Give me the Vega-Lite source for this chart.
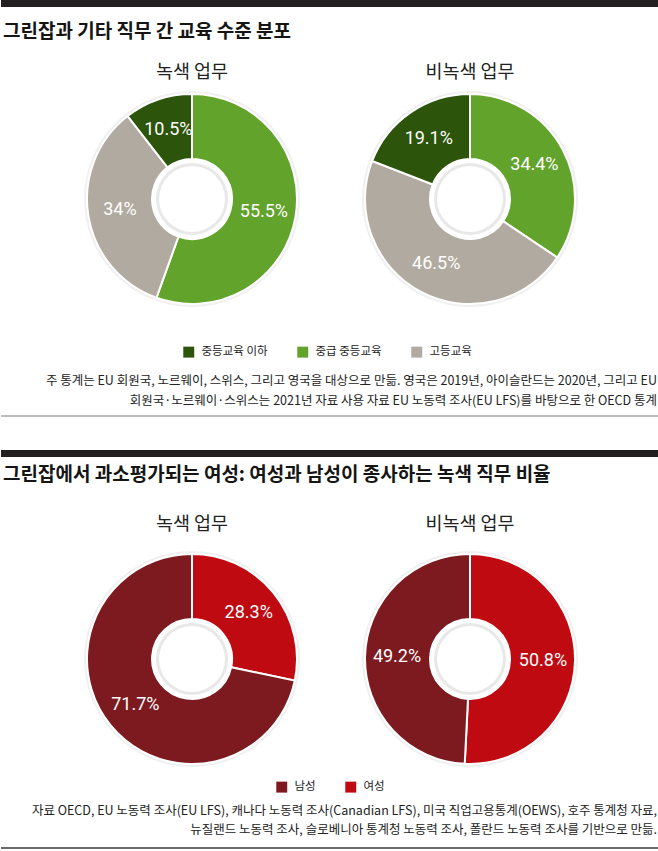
{
  "$schema": "https://vega.github.io/schema/vega-lite/v6.json",
  "padding": 0,
  "background": "white",
  "spacing": 0,
  "config": {
    "view": {"stroke": null},
    "font": "Noto Sans CJK KR",
    "concat": {"spacing": 0},
    "legend": {
      "orient": "none",
      "direction": "horizontal",
      "title": null,
      "symbolType": "square",
      "symbolSize": 120,
      "symbolStrokeWidth": 0,
      "labelFont": "Noto Sans CJK KR",
      "labelFontSize": 11.5,
      "labelColor": "#222222",
      "labelOffset": 7,
      "columnPadding": 29
    }
  },
  "resolve": {"scale": {"color": "independent"}},
  "vconcat": [
    {
      "width": 658,
      "height": 7,
      "data": {"values": [{}]},
      "mark": {"type": "rect", "color": "#231f20"},
      "encoding": {}
    },
    {
      "width": 658,
      "height": 15,
      "data": {"values": []},
      "mark": "rect",
      "encoding": {}
    },
    {
      "title": {
        "text": "그린잡과 기타 직무 간 교육 수준 분포",
        "anchor": "start",
        "dx": 2,
        "fontSize": 19,
        "fontWeight": "bold",
        "color": "#151515",
        "offset": 21
      },
      "spacing": 0,
      "hconcat": [
        {
          "width": 52,
          "height": 220,
          "data": {"values": []},
          "mark": "rect",
          "encoding": {}
        },
        {
          "width": 278,
          "height": 220,
          "title": {"text": "녹색 업무", "fontSize": 18.5, "fontWeight": "normal", "color": "#222222", "offset": 8},
          "data": {
            "values": [
              {"job": "녹색 업무", "level": "중급 중등교육", "share": 0.555, "seq": 1},
              {"job": "녹색 업무", "level": "고등교육", "share": 0.34, "seq": 2},
              {"job": "녹색 업무", "level": "중등교육 이하", "share": 0.105, "seq": 3}
            ]
          },
          "layer": [
            {
              "data": {"values": [{}]},
              "mark": {"type": "arc", "outerRadius": 108, "innerRadius": 100, "color": "#f0f0f0"},
              "encoding": {}
            },
            {
              "mark": {"type": "arc", "outerRadius": 105, "innerRadius": 40, "stroke": "white", "strokeWidth": 2},
              "encoding": {
                "theta": {"field": "share", "type": "quantitative", "stack": true},
                "order": {"field": "seq", "type": "quantitative"},
                "color": {
                  "field": "level",
                  "type": "nominal",
                  "scale": {"domain": ["중등교육 이하", "중급 중등교육", "고등교육"], "range": ["#2c540b", "#62a32b", "#b1aaa0"]},
                  "legend": {"legendX": 182, "legendY": 257}
                }
              }
            },
            {
              "data": {"values": [{}]},
              "mark": {"type": "arc", "outerRadius": 36, "innerRadius": 33, "color": "#e8e8e8"},
              "encoding": {}
            },
            {
              "mark": {"type": "text", "radius": 73, "font": "Roboto", "fontSize": 18, "color": "white"},
              "encoding": {
                "theta": {"field": "share", "type": "quantitative", "stack": true},
                "order": {"field": "seq", "type": "quantitative"},
                "text": {"field": "share", "type": "quantitative", "format": ".1~%"}
              }
            }
          ]
        },
        {
          "width": 278,
          "height": 220,
          "title": {"text": "비녹색 업무", "fontSize": 18.5, "fontWeight": "normal", "color": "#222222", "offset": 8},
          "data": {
            "values": [
              {"job": "비녹색 업무", "level": "중급 중등교육", "share": 0.344, "seq": 1},
              {"job": "비녹색 업무", "level": "고등교육", "share": 0.465, "seq": 2},
              {"job": "비녹색 업무", "level": "중등교육 이하", "share": 0.191, "seq": 3}
            ]
          },
          "layer": [
            {
              "data": {"values": [{}]},
              "mark": {"type": "arc", "outerRadius": 108, "innerRadius": 100, "color": "#f0f0f0"},
              "encoding": {}
            },
            {
              "mark": {"type": "arc", "outerRadius": 105, "innerRadius": 40, "stroke": "white", "strokeWidth": 2},
              "encoding": {
                "theta": {"field": "share", "type": "quantitative", "stack": true},
                "order": {"field": "seq", "type": "quantitative"},
                "color": {
                  "field": "level",
                  "type": "nominal",
                  "scale": {"domain": ["중등교육 이하", "중급 중등교육", "고등교육"], "range": ["#2c540b", "#62a32b", "#b1aaa0"]},
                  "legend": {"legendX": 182, "legendY": 257}
                }
              }
            },
            {
              "data": {"values": [{}]},
              "mark": {"type": "arc", "outerRadius": 36, "innerRadius": 33, "color": "#e8e8e8"},
              "encoding": {}
            },
            {
              "mark": {"type": "text", "radius": 73, "font": "Roboto", "fontSize": 18, "color": "white"},
              "encoding": {
                "theta": {"field": "share", "type": "quantitative", "stack": true},
                "order": {"field": "seq", "type": "quantitative"},
                "text": {"field": "share", "type": "quantitative", "format": ".1~%"}
              }
            }
          ]
        }
      ]
    },
    {
      "width": 658,
      "height": 58,
      "data": {
        "values": [
          {"line": 1, "text": "주 통계는 EU 회원국, 노르웨이, 스위스, 그리고 영국을 대상으로 만듦. 영국은 2019년, 아이슬란드는 2020년, 그리고 EU"},
          {"line": 2, "text": "회원국·노르웨이·스위스는 2021년 자료 사용 자료 EU 노동력 조사(EU LFS)를 바탕으로 한 OECD 통계"}
        ]
      },
      "layer": [
        {
          "mark": {"type": "text", "align": "right", "baseline": "middle", "fontSize": 12.5, "color": "#222222", "dx": -2},
          "encoding": {
            "x": {"value": "width"},
            "y": {"field": "line", "type": "ordinal", "axis": null, "scale": {"type": "point", "padding": 1.206, "align": 0.6}},
            "text": {"field": "text"}
          }
        },
        {
          "data": {"values": [{}]},
          "mark": {"type": "rule", "color": "#7a7a7a", "strokeWidth": 1.2},
          "encoding": {"y": {"value": "height"}}
        }
      ]
    },
    {
      "width": 658,
      "height": 33,
      "data": {"values": []},
      "mark": "rect",
      "encoding": {}
    },
    {
      "width": 658,
      "height": 7,
      "data": {"values": [{}]},
      "mark": {"type": "rect", "color": "#231f20"},
      "encoding": {}
    },
    {
      "width": 658,
      "height": 8,
      "data": {"values": []},
      "mark": "rect",
      "encoding": {}
    },
    {
      "title": {
        "text": "그린잡에서 과소평가되는 여성: 여성과 남성이 종사하는 녹색 직무 비율",
        "anchor": "start",
        "dx": 2,
        "fontSize": 19,
        "fontWeight": "bold",
        "color": "#151515",
        "offset": 30
      },
      "spacing": 0,
      "hconcat": [
        {
          "width": 52,
          "height": 220,
          "data": {"values": []},
          "mark": "rect",
          "encoding": {}
        },
        {
          "width": 278,
          "height": 220,
          "title": {"text": "녹색 업무", "fontSize": 18.5, "fontWeight": "normal", "color": "#222222", "offset": 16},
          "data": {
            "values": [
              {"job": "녹색 업무", "gender": "여성", "share": 0.283, "seq": 1},
              {"job": "녹색 업무", "gender": "남성", "share": 0.717, "seq": 2}
            ]
          },
          "layer": [
            {
              "data": {"values": [{}]},
              "mark": {"type": "arc", "outerRadius": 108, "innerRadius": 100, "color": "#f0f0f0"},
              "encoding": {}
            },
            {
              "mark": {"type": "arc", "outerRadius": 105, "innerRadius": 40, "stroke": "white", "strokeWidth": 2},
              "encoding": {
                "theta": {"field": "share", "type": "quantitative", "stack": true},
                "order": {"field": "seq", "type": "quantitative"},
                "color": {
                  "field": "gender",
                  "type": "nominal",
                  "scale": {"domain": ["남성", "여성"], "range": ["#7d1a20", "#be0a10"]},
                  "legend": {"legendX": 275, "legendY": 232}
                }
              }
            },
            {
              "data": {"values": [{}]},
              "mark": {"type": "arc", "outerRadius": 36, "innerRadius": 33, "color": "#e8e8e8"},
              "encoding": {}
            },
            {
              "mark": {"type": "text", "radius": 73, "font": "Roboto", "fontSize": 18, "color": "white"},
              "encoding": {
                "theta": {"field": "share", "type": "quantitative", "stack": true},
                "order": {"field": "seq", "type": "quantitative"},
                "text": {"field": "share", "type": "quantitative", "format": ".1~%"}
              }
            }
          ]
        },
        {
          "width": 278,
          "height": 220,
          "title": {"text": "비녹색 업무", "fontSize": 18.5, "fontWeight": "normal", "color": "#222222", "offset": 16},
          "data": {
            "values": [
              {"job": "비녹색 업무", "gender": "여성", "share": 0.508, "seq": 1},
              {"job": "비녹색 업무", "gender": "남성", "share": 0.492, "seq": 2}
            ]
          },
          "layer": [
            {
              "data": {"values": [{}]},
              "mark": {"type": "arc", "outerRadius": 108, "innerRadius": 100, "color": "#f0f0f0"},
              "encoding": {}
            },
            {
              "mark": {"type": "arc", "outerRadius": 105, "innerRadius": 40, "stroke": "white", "strokeWidth": 2},
              "encoding": {
                "theta": {"field": "share", "type": "quantitative", "stack": true},
                "order": {"field": "seq", "type": "quantitative"},
                "color": {
                  "field": "gender",
                  "type": "nominal",
                  "scale": {"domain": ["남성", "여성"], "range": ["#7d1a20", "#be0a10"]},
                  "legend": {"legendX": 275, "legendY": 232}
                }
              }
            },
            {
              "data": {"values": [{}]},
              "mark": {"type": "arc", "outerRadius": 36, "innerRadius": 33, "color": "#e8e8e8"},
              "encoding": {}
            },
            {
              "mark": {"type": "text", "radius": 73, "font": "Roboto", "fontSize": 18, "color": "white"},
              "encoding": {
                "theta": {"field": "share", "type": "quantitative", "stack": true},
                "order": {"field": "seq", "type": "quantitative"},
                "text": {"field": "share", "type": "quantitative", "format": ".1~%"}
              }
            }
          ]
        }
      ]
    },
    {
      "width": 658,
      "height": 55,
      "data": {
        "values": [
          {"line": 1, "text": "자료 OECD, EU 노동력 조사(EU LFS), 캐나다 노동력 조사(Canadian LFS), 미국 직업고용통계(OEWS), 호주 통계청 자료,"},
          {"line": 2, "text": "뉴질랜드 노동력 조사, 슬로베니아 통계청 노동력 조사, 폴란드 노동력 조사를 기반으로 만듦."}
        ]
      },
      "layer": [
        {
          "mark": {"type": "text", "align": "right", "baseline": "middle", "fontSize": 12.5, "color": "#222222", "dx": -2},
          "encoding": {
            "x": {"value": "width"},
            "y": {"field": "line", "type": "ordinal", "axis": null, "scale": {"type": "point", "padding": 1.118, "align": 0.5}},
            "text": {"field": "text"}
          }
        },
        {
          "data": {"values": [{}]},
          "mark": {"type": "rule", "color": "#3a3a3a", "strokeWidth": 1.5},
          "encoding": {"y": {"value": "height"}}
        }
      ]
    }
  ]
}
